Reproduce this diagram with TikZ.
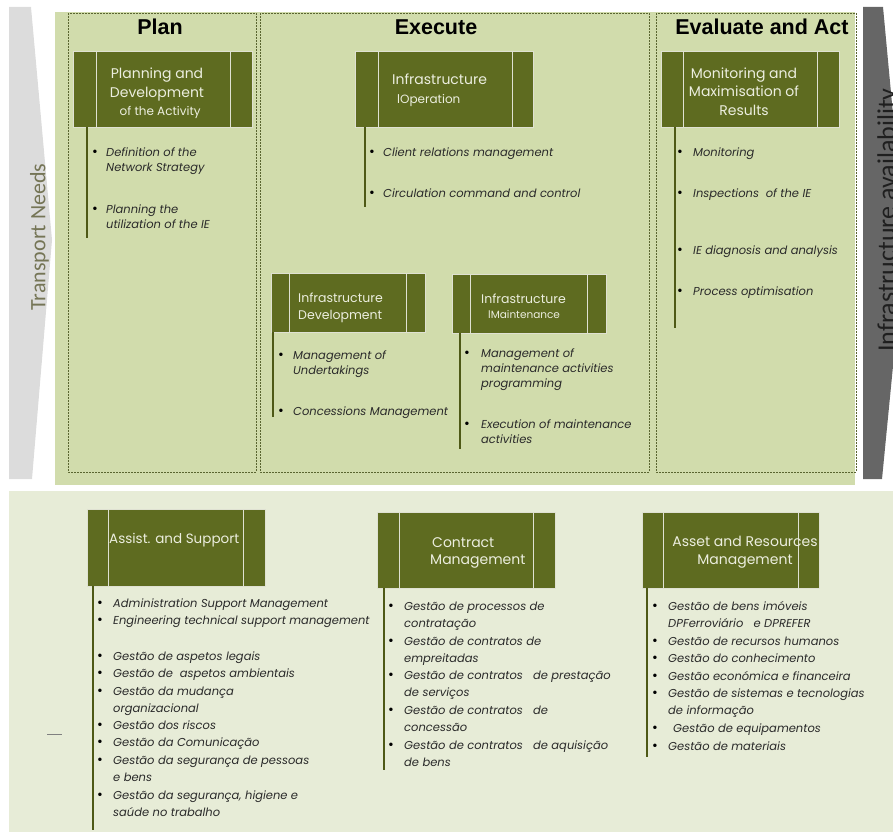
\documentclass[tikz,border=0pt]{standalone}
\usepackage{fontspec}
\setmainfont{Poppins}
\newfontfamily\titlefont{Liberation Sans}
\newfontfamily\sidefont{Carlito}
\definecolor{panelA}{HTML}{D1DCAC}
\definecolor{panelB}{HTML}{E7ECD7}
\definecolor{olive}{HTML}{5E6B20}
\definecolor{oliveline}{HTML}{4E5916}
\definecolor{dashc}{HTML}{5A6530}
\definecolor{boxtext}{HTML}{ECEEDF}
\definecolor{itemtext}{HTML}{2A2A2A}
\definecolor{leftarr}{HTML}{DCDCDC}
\definecolor{rightarr}{HTML}{666666}
\definecolor{needs}{HTML}{757556}
\tikzset{
  obox/.style={fill=olive, draw=white!80!olive, line width=0.6pt, inner sep=0pt, outer sep=0pt},
  divider/.style={draw=white!80!olive, line width=0.6pt},
  vline/.style={draw=oliveline, line width=2.2pt},
  colbox/.style={draw=dashc, line width=0.7pt, dash pattern=on 2pt off 1pt},
  title/.style={font=\titlefont\bfseries\fontsize{21.5}{24}\selectfont, anchor=base, inner sep=0pt},
  btext/.style={text=boxtext, inner sep=0pt, font=\fontsize{14}{18.5}\selectfont},
  itext/.style={text=itemtext, inner sep=0pt, anchor=base west, font=\itshape\fontsize{11.5}{15}\selectfont},
  itextB/.style={itext, font=\itshape\fontsize{11.5}{17.4}\selectfont},
  bul/.style={text=black, inner sep=0pt, anchor=base, font=\fontsize{14}{15}\selectfont},
  sidetext/.style={rotate=90, anchor=north, inner sep=0pt}
}
\newcommand\tabl[1]{\begin{tabular}[t]{@{}l@{}}#1\end{tabular}}
\newcommand\tabc[1]{\begin{tabular}[t]{@{}c@{}}#1\end{tabular}}
\newcommand\mkbox[7]{%
  \node[obox, minimum width=#4pt-#2pt, minimum height=#5pt-#3pt, anchor=north west] (#1) at (#2,#3) {};
  \draw[divider] ([xshift=#6pt]#1.north west) -- ([xshift=#6pt]#1.south west);
  \draw[divider] ([xshift=-#7pt]#1.north east) -- ([xshift=-#7pt]#1.south east);
}
\newcommand\bitem[5]{%
  \node[bul] (#1b) at (#2,#4) {\textbullet};
  \node[itext] (#1) at (#3,#4) {\tabl{#5}};
}
\newcommand\bitemB[5]{%
  \node[bul] (#1b) at (#2,#4) {\textbullet};
  \node[itextB] (#1) at (#3,#4) {\tabl{#5}};
}
\newcommand\stem[4]{% box name, coordinate name, x, y end
  \coordinate (#2) at (#3,#4);
  \draw[vline] (#2 |- #1.south) -- (#2);
}
\begin{document}
\begin{tikzpicture}[x=1pt,y=-1pt]
\useasboundingbox (0,0) rectangle (893,832);
% panels
\fill[panelA] (55,12) rectangle (855,485);
\fill[panelB] (9,491) rectangle (893,832);
% side arrows
\fill[leftarr] (9,7) -- (31,7) -- (52,240) -- (32,479) -- (9,479) -- cycle;
\fill[rightarr] (863,7) -- (883,7) -- (905,243) -- (882,479) -- (863,479) -- cycle;
\node[sidetext, font=\sidefont\fontsize{22}{26}\selectfont, text=needs] (needs) at (30,237) {Transport Needs};
\node[sidetext, font=\sidefont\fontsize{26}{30}\selectfont, text=black!88] (avail) at (877,220) {Infrastructure availability};
% columns
\draw[colbox] (68,13) rectangle (256,472);
\draw[colbox] (260,13) rectangle (649,472);
\draw[colbox] (656,13) rectangle (856,472);
\node[title] (planh) at (160,35) {Plan};
\node[title] (exech) at (436,35) {Execute};
\node[title] (evalh) at (762,35) {Evaluate and Act};
% boxes
\mkbox{pl}{73}{51}{252}{127}{23}{22}
\mkbox{ex}{355}{51}{533}{127}{23}{21}
\mkbox{ev}{661}{51}{839}{127}{22}{22}
\mkbox{dv}{271}{273}{425}{332}{18}{19}
\mkbox{mn}{452}{274}{606}{333}{18}{19}
\mkbox{as}{87}{509}{265}{586}{21}{22}
\mkbox{ct}{377}{512}{555}{588}{22}{22}
\mkbox{ar}{642}{512}{819}{588}{21}{21}
% box texts
\node[btext, anchor=base, font=\fontsize{14}{18.5}\selectfont] (plt) at (157,79) {\tabc{Planning and\\Development\\{\fontsize{12}{18.5}\selectfont\ \ of the Activity}}};
\node[btext, anchor=base west, font=\fontsize{14}{18}\selectfont] (ext) at (392,85) {\tabl{Infrastructure\\\hspace*{5pt}{\fontsize{12}{18}\selectfont lOperation}}};
\node[btext, anchor=base, font=\fontsize{14}{18}\selectfont] (evt) at (744,79) {\tabc{Monitoring and\\Maximisation of\\Results}};
\node[btext, anchor=base west, font=\fontsize{12.5}{17}\selectfont] (dvt) at (298,302) {\tabl{Infrastructure\\Development}};
\node[btext, anchor=base west, font=\fontsize{12.5}{15}\selectfont] (mnt) at (481,303) {\tabl{Infrastructure\\\hspace*{7pt}{\fontsize{10.5}{15}\selectfont lMaintenance}}};
\node[btext, anchor=base west, font=\fontsize{13.5}{17}\selectfont] (ast) at (109,543) {Assist. and Support};
\node[btext, anchor=base west, font=\fontsize{14}{17}\selectfont] (ctt) at (430,547) {\tabl{\hspace*{2pt}Contract\\Management}};
\node[btext, anchor=base, font=\fontsize{14}{18}\selectfont] (art) at (745,546) {\tabc{Asset and Resources\\Management}};
% stems
\stem{pl}{ple}{87}{238}
\stem{ex}{exe}{365}{207}
\stem{ev}{eve}{675}{328}
\stem{dv}{dve}{273}{417}
\stem{mn}{mne}{460}{449}
\stem{as}{ase}{93}{830}
\stem{ct}{cte}{384}{770}
\stem{ar}{are}{647}{757}
% items
\bitem{p1}{95}{106}{156}{Definition of the\\Network Strategy}
\bitem{p2}{95}{106}{213}{Planning the\\utilization of the IE}
\bitem{e1}{372}{383}{156}{Client relations management}
\bitem{e2}{372}{383}{197}{Circulation command and control}
\bitem{v1}{680}{693}{156}{Monitoring}
\bitem{v2}{680}{693}{197}{Inspections\ \ of the IE}
\bitem{v3}{680}{693}{254}{IE diagnosis and analysis}
\bitem{v4}{680}{693}{295}{Process optimisation}
\bitem{d1}{281}{293}{359}{Management of\\Undertakings}
\bitem{d2}{281}{293}{415}{Concessions Management}
\bitem{m1}{467}{481}{357}{Management of\\maintenance activities\\programming}
\bitem{m2}{467}{481}{428}{Execution of maintenance\\activities}
\bitemB{a1}{100}{113}{607}{Administration Support Management}
\bitemB{a2}{100}{113}{624}{Engineering technical support management}
\bitemB{a3}{100}{113}{660}{Gestão de aspetos legais}
\bitemB{a4}{100}{113}{677}{Gestão de\ \ aspetos ambientais}
\bitemB{a5}{100}{113}{695}{Gestão da mudança\\organizacional}
\bitemB{a6}{100}{113}{729}{Gestão dos riscos}
\bitemB{a7}{100}{113}{746}{Gestão da Comunicação}
\bitemB{a8}{100}{113}{764}{Gestão da segurança de pessoas\\e bens}
\bitemB{a9}{100}{113}{799}{Gestão da segurança, higiene e\\saúde no trabalho}
\bitemB{c1}{391}{404}{610}{Gestão de processos de\\contratação}
\bitemB{c2}{391}{404}{645}{Gestão de contratos de\\empreitadas}
\bitemB{c3}{391}{404}{679}{Gestão de contratos\ \ \ de prestação\\de serviços}
\bitemB{c4}{391}{404}{714}{Gestão de contratos\ \ \ de\\concessão}
\bitemB{c5}{391}{404}{749}{Gestão de contratos\ \ \ de aquisição\\de bens}
\bitemB{s1}{655}{668}{610}{Gestão de bens imóveis\\DPFerroviário\ \ \ e DPREFER}
\bitemB{s2}{655}{668}{645}{Gestão de recursos humanos}
\bitemB{s3}{655}{668}{662}{Gestão do conhecimento}
\bitemB{s4}{655}{668}{680}{Gestão económica e financeira}
\bitemB{s5}{655}{668}{697}{Gestão de sistemas e tecnologias\\de informação}
\bitemB{s6}{655}{673}{732}{Gestão de equipamentos}
\bitemB{s7}{655}{668}{750}{Gestão de materiais}
% small mark
\draw[draw=gray, line width=0.8pt] (47,734) -- (62,734);
\end{tikzpicture}
\end{document}
